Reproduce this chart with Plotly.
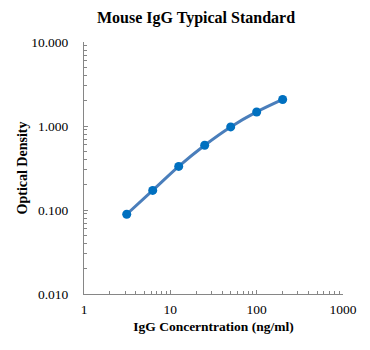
import plotly.graph_objects as go

conc = [3.125, 6.25, 12.5, 25, 50, 100, 200]
od = [0.089, 0.171, 0.330, 0.590, 0.975, 1.47, 2.07]

y_tickvals = [0.01, 0.1, 1, 10]
y_ticktext = ["0.010", "0.100", "1.000", "10.000"]
x_tickvals = [1, 10, 100, 1000]
x_ticktext = ["1", "10", "100", "1000"]

font_family = "Liberation Serif, Times New Roman, serif"

fig = go.Figure()
fig.add_trace(go.Scatter(
    x=conc, y=od, mode="lines+markers",
    line=dict(color="#4a7ebb", width=3, shape="spline", smoothing=0.8),
    marker=dict(color="#0070c0", size=9),
    showlegend=False,
))

axis_common = dict(
    type="log", showgrid=False, zeroline=False, showline=True,
    linecolor="#868686", linewidth=1, ticks="inside", ticklen=4,
    tickcolor="#868686", mirror=False,
    tickfont=dict(family=font_family, size=13.5, color="black"),
    minor=dict(ticks="inside", ticklen=3, tickcolor="#868686", showgrid=False, dtick="D1"),
)

fig.update_layout(
    width=370, height=350,
    margin=dict(l=84, r=27, t=42, b=56),
    paper_bgcolor="white", plot_bgcolor="white",
    title=dict(text="<b>Mouse IgG Typical Standard</b>", x=196/370, xref="container",
               xanchor="center", y=1 - 17/350, yanchor="middle",
               font=dict(family=font_family, size=16, color="black")),
    xaxis=dict(axis_common, range=[0, 3], tickvals=x_tickvals, ticktext=x_ticktext,
               ticklabelstandoff=3,
               title=dict(text="<b>IgG Concerntration (ng/ml)</b>", standoff=5,
                          font=dict(family=font_family, size=13.5, color="black"))),
    yaxis=dict(axis_common, range=[-2, 1], tickvals=y_tickvals, ticktext=y_ticktext,
               ticklabelstandoff=12,
               title=dict(text="<b>Optical Density</b>", standoff=0,
                          font=dict(family=font_family, size=14, color="black"))),
)

fig.write_html("out.html")
